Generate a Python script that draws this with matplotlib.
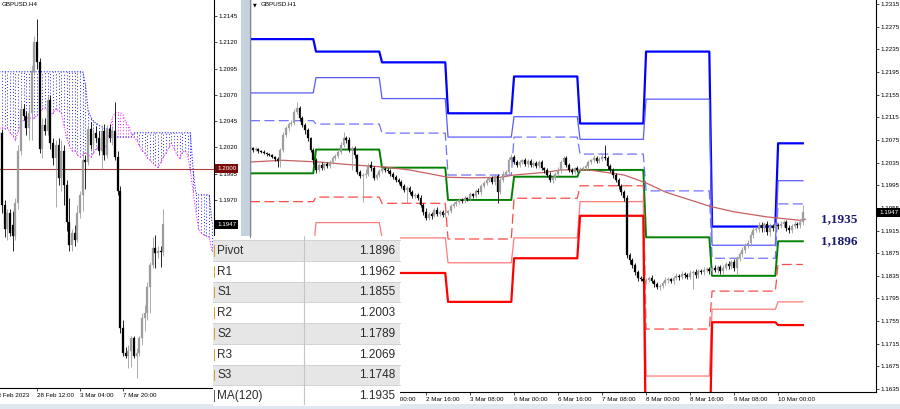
import numpy as np
import matplotlib
matplotlib.use("Agg")
import matplotlib.pyplot as plt
import matplotlib.transforms as mtransforms
from matplotlib.patches import Rectangle

plt.rcParams['font.family'] = ['Liberation Sans', 'DejaVu Sans']

# ---------------- H4 panel (left), prices in pips (x 1e-4) ----------------
h4_index = list(range(-14, 48))
h4_open = [12027,12034,11965,11943,11958,11946,11936,11967,12017,12057,12050,12039,12053,12093,
           12120,12101,12019,12041,12036,12065,12024,12010,12022,11991,12017,11984,11949,11927,
           11939,11932,11958,11975,12008,12006,12038,12022,12034,12029,12017,12036,12013,12038,
           12029,12036,12011,11979,11848,11825,11822,11827,11839,11822,11825,11839,11858,11863,
           11887,11908,11924,11920,11922,11921]
h4_high = [12044,12038,11970,11962,11962,11960,11972,12022,12063,12061,12055,12060,12098,12126,
           12142,12105,12048,12048,12070,12070,12029,12027,12029,12027,12022,11989,11972,11943,
           11946,11965,11979,12017,12013,12041,12044,12038,12040,12036,12041,12042,12041,12042,
           12040,12063,12017,11983,11856,11830,11832,11841,11841,11829,11841,11863,11870,11892,
           11911,11935,11937,11926,11926,11962]
h4_low = [12021,11958,11935,11932,11936,11922,11932,11962,12013,12046,12032,12027,12027,12089,
          12095,12015,12010,12032,12032,12019,12003,11963,11984,11979,11965,11941,11922,11922,
          11926,11930,11953,11960,11981,12003,12019,12017,12025,12013,12000,12008,12010,12025,
          12022,12008,11975,11844,11822,11820,11810,11811,11820,11801,11822,11832,11846,11856,
          11863,11905,11905,11915,11906,11917]
h4_close = [12036,11965,11943,11958,11939,11936,11967,12017,12057,12050,12039,12053,12093,12120,
            12101,12019,12041,12036,12065,12024,12010,12022,11991,12017,11984,11949,11927,11939,
            11932,11958,11975,12008,12006,12038,12022,12034,12029,12017,12036,12013,12038,12029,
            12036,12011,11979,11848,11825,11822,11827,11839,11822,11825,11839,11858,11863,11887,
            11908,11924,11920,11922,11921,11947]
h4_tick_pos = [0, 16, 32]
h4_tick_labels = ['28 Feb 12:00', '3 Mar 04:00', '7 Mar 20:00']
h4_first_label = (-16, '23 Feb 2023')
h4_price_ticks = [1.1970, 1.1995, 1.2020, 1.2045, 1.2070, 1.2095, 1.2120, 1.2145]

# Ichimoku cloud (shifted forward), bars -14 .. 65
cloud_index = list(range(-14, 66))
span_b = [12092]*32 + [12080,12055,12049,12045,12043,12041,12040,12038,12038,12038] + \
         [12030]*8 + [12034]*22 + [12000,11977] + [11975]*5 + [11950]
span_a = [12038,12039,12038,12039,12034,12031,12027,12036,12043,12046,12048,12048,12048,12048,
          12051,12053,12057,12058,12055,12051,12053,12057,12055,12053,12041,12029,12022,12017,
          12017,12013,12011,12013,12015,12013,12011,12015,12019,12020,12017,12019,12024,12036,
          12048,12053,12053,12053,12051,12044,12041,12034,12030,12027,12022,12017,12015,12010,
          12008,12005,12003,12001,12006,12011,12015,12020,12024,12019,12013,12010,12015,12017,
          12013,11998,11979,11960,11943,11939,11937,11936,11935,11922]
h4_level_line = 1.2000
h4_last = 1.1947

# ---------------- H1 panel (right) ----------------
h1_first_open = 12062
h1_close = [
    12061,12057,12059,12055,12054,12052,12050,12048,12045,12041,12038,12057,12084,12096,12103,12105,12124,12131,12114,12101,12092,12078,12057,12039,
    12022,12031,12025,12032,12029,12036,12043,12047,12054,12066,12078,12075,12057,12061,12048,12018,12011,12013,12015,12031,12025,12008,12013,12020,
    12024,12022,12020,12015,12009,12004,12001,11994,11986,11990,11983,11976,11978,11972,11960,11948,11937,11944,11941,11951,11944,11948,11942,11946,
    11949,11958,11962,11965,11969,11967,11972,11971,11979,11976,11985,11983,11994,11999,12004,12008,12001,12011,11983,12004,12015,12018,12039,12045,
    12036,12031,12036,12039,12032,12038,12031,12034,12029,12036,12025,12022,12013,12004,12008,12015,12022,12036,12043,12031,12022,12018,12025,12022,
    12024,12025,12029,12036,12039,12043,12038,12041,12045,12043,12029,12022,12013,12004,11994,11983,11972,11872,11863,11854,11842,11831,11829,11826,
    11828,11831,11826,11820,11815,11817,11822,11828,11829,11826,11831,11835,11833,11838,11836,11833,11840,11842,11836,11843,11842,11845,11847,11843,
    11849,11845,11850,11843,11849,11856,11852,11859,11849,11866,11873,11880,11889,11893,11907,11916,11918,11925,11919,11926,11912,11923,11919,11925,
    11923,11926,11930,11919,11916,11923,11926,11925,11930,11947]
h1_upper_wick = [
    3,2,3,2,2,3,2,2,3,2,3,4,5,4,3,6,5,11,4,3,3,4,3,3,
    4,3,5,3,4,3,3,4,5,6,11,4,5,4,3,3,4,3,8,3,6,4,3,3,
    3,3,4,3,3,4,3,3,4,3,4,3,3,4,5,4,6,3,4,3,5,4,3,3,
    3,4,3,4,3,3,4,3,4,3,4,5,4,3,5,4,4,4,3,4,5,4,6,5,
    4,3,4,3,4,3,4,3,4,3,4,3,4,5,4,4,5,4,3,4,3,4,3,4,
    3,4,3,4,3,5,4,4,5,21,4,3,3,4,3,3,4,5,3,4,3,3,3,4,
    4,3,5,4,4,3,4,5,4,3,4,5,4,5,4,4,6,4,5,4,4,5,4,4,
    4,5,4,4,5,4,5,4,5,4,4,5,4,6,5,5,4,5,5,4,6,5,4,5,
    4,5,4,4,5,4,5,4,5,13]
h1_lower_wick = [
    2,3,2,3,2,2,3,2,2,3,11,11,4,3,5,3,4,4,5,4,6,5,4,6,
    5,3,4,3,3,4,3,3,4,4,3,6,4,35,5,4,4,46,5,4,5,4,3,3,
    3,4,3,4,3,3,4,4,3,22,3,4,4,3,4,6,4,4,5,3,4,3,4,3,
    4,3,4,3,4,3,3,4,3,4,3,4,5,4,3,4,4,5,19,4,3,4,3,4,
    3,4,3,4,3,4,3,4,3,4,4,5,4,4,5,3,4,5,4,3,4,3,4,3,
    3,3,4,3,4,3,4,3,4,4,5,4,5,4,5,5,4,6,8,5,5,6,4,4,
    5,4,4,4,3,5,4,4,5,4,6,4,5,4,4,4,4,28,5,4,4,5,4,4,
    5,4,5,4,5,4,5,5,6,13,5,4,5,5,6,5,4,5,6,7,5,6,5,5,
    5,4,5,4,6,5,4,5,6,5]

# Daily pivot levels (one value per day: 28 Feb .. 10 Mar), pips
piv_R3 = [12253,12231,12212,12122,12187,12104,12231,11922,12069]
piv_R2 = [12158,12185,12148,12080,12116,12076,12147,11889,12003]
piv_R1 = [12109,12103,12087,12013,12080,12050,11985,11866,11962]
piv_P  = [12016,12058,12026,11969,12010,12022,11903,11835,11896]
piv_S1 = [11966,11974,11963,11900,11972,11994,11741,11808,11855]
piv_S2 = [11873,11929,11902,11858,11902,11966,11658,11776,11789]
piv_S3 = [11822,11843,11840,11789,11866,11941,11498,11753,11748]

ma_hours = [0,12,25,37,49,58,72,81,91,96,108,113,123,129,136,144,151,160,167,176,188,200,202]
ma_vals = [12036,12039,12036,12031,12027,12022,12009,12008,12009,12013,12018,12022,12022,12018,
           12013,11999,11983,11969,11958,11948,11939,11933,11935]

h1_tick_pos = [48,64,80,96,112,128,144,160,176,192]
h1_tick_labels = ['2 Mar 00:00','2 Mar 16:00','3 Mar 08:00',
                  '6 Mar 00:00','6 Mar 16:00','7 Mar 08:00','8 Mar 00:00','8 Mar 16:00',
                  '9 Mar 08:00','10 Mar 00:00']
h1_last = 1.1947

table_labels = ['Pivot','R1','S1','R2','S2','R3','S3','MA(120)']
table_values = ['1.1896','1.1962','1.1855','1.2003','1.1789','1.2069','1.1748','1.1935']
note_values = [1.1935, 1.1896]
note_texts = ['1,1935', '1,1896']

# ---------------- figure ----------------
W, H = 900, 409
fig = plt.figure(figsize=(9, 4.09), dpi=100)
fig.patch.set_facecolor('white')

def fx(px):
    return px / W

def fy(py):
    return 1 - py / H

ax1 = fig.add_axes([0, fy(388), fx(214), 388 / H])
ax2 = fig.add_axes([fx(250), fy(392), fx(626), 392 / H])

BULL = '#9d9d9d'
BEAR = '#000000'

def candles(ax, x, o, h, l, c, width, min_h):
    x = np.asarray(x, float)
    o, h, l, c = [np.asarray(v, float) / 1e4 for v in (o, h, l, c)]
    up = c >= o
    cols = np.where(up, BULL, BEAR)
    ax.vlines(x, l, h, colors=cols, linewidth=0.6, zorder=3)
    bottom = np.minimum(o, c)
    height = np.maximum(np.abs(c - o), min_h)
    ax.bar(x, height, width, bottom=bottom, color=cols, edgecolor=cols,
           linewidth=0.2, zorder=4)

# ---- left panel ----
ci = np.asarray(cloud_index, float)
sa = np.asarray(span_a, float) / 1e4
sb = np.asarray(span_b, float) / 1e4
ccol = np.where(sb >= sa, '#2222ff', '#ff22ff')
ax1.vlines(ci, np.minimum(sa, sb), np.maximum(sa, sb), colors=ccol,
           linestyles=(0, (1, 2.2)), linewidth=0.7, zorder=1)
ax1.plot(ci, sb, color='#2222ff', linestyle=(0, (1, 1.5)), linewidth=0.8, zorder=1.2)
ax1.plot(ci, sa, color='#ff22ff', linestyle=(0, (1, 1.5)), linewidth=0.8, zorder=1.2)
ax1.axhline(h4_level_line, color='#a84040', linewidth=0.8, zorder=2)
candles(ax1, h4_index, h4_open, h4_high, h4_low, h4_close, 0.72, 0.0001)

ax1.set_xlim(-13.75, 65.8)
ax1.set_ylim(1.17914, 1.21602)
ax1.yaxis.tick_right()
ax1.set_yticks(h4_price_ticks)
ax1.set_yticklabels(['%.4f' % v for v in h4_price_ticks])
ax1.set_xticks(h4_tick_pos)
ax1.set_xticklabels(h4_tick_labels, ha='left')
ax1.text(h4_first_label[0], -0.012, h4_first_label[1],
         transform=mtransforms.blended_transform_factory(ax1.transData, ax1.transAxes),
         ha='left', va='top', fontsize=4.5, clip_on=False)

# ---- right panel ----
hours = np.arange(len(h1_close))
c1 = np.asarray(h1_close, float)
o1 = np.concatenate([[h1_first_open], c1[:-1]])
hi1 = np.maximum(o1, c1) + np.asarray(h1_upper_wick)
lo1 = np.minimum(o1, c1) - np.asarray(h1_lower_wick)
day = hours // 24

piv_styles = [
    (piv_R3, '#0000ff', 1.6, '-'),
    (piv_R2, '#5a5aff', 0.9, '-'),
    (piv_R1, '#7272ff', 0.9, (0, (8, 3.5))),
    (piv_P, '#008000', 1.4, '-'),
    (piv_S1, '#ff4a4a', 0.9, (0, (8, 3.5))),
    (piv_S2, '#ff7a7a', 0.9, '-'),
    (piv_S3, '#ff0000', 1.6, '-'),
]
for vals, col, lw, ls in piv_styles:
    ax2.plot(hours, np.asarray(vals, float)[day] / 1e4, color=col, linewidth=lw,
             linestyle=ls, zorder=2)
ax2.plot(ma_hours, np.asarray(ma_vals, float) / 1e4, color='#c86060', linewidth=0.9, zorder=2.5)
candles(ax2, hours, o1, hi1, lo1, c1, 0.62, 0.00012)

for v, t in zip(note_values, note_texts):
    ax2.text(207.6, v, t, ha='left', va='center', fontsize=9.5, fontweight='bold',
             family=['Liberation Serif', 'DejaVu Serif'], color='#1a1a6e', zorder=6)

ax2.set_xlim(0, 227.6)
ax2.set_ylim(1.16298, 1.23221)
ax2.yaxis.tick_right()
yt2 = np.round(np.arange(1.1635, 1.23151, 0.004), 4)
ax2.set_yticks(yt2)
ax2.set_yticklabels(['%.4f' % v for v in yt2])
ax2.set_xticks(h1_tick_pos)
ax2.set_xticklabels(h1_tick_labels, ha='left')

for ax in (ax1, ax2):
    ax.set_facecolor('white')
    ax.tick_params(axis='both', labelsize=4.5, length=2, width=0.5, pad=1.5, colors='black')
    ax.spines['top'].set_visible(False)
    ax.spines['right'].set_linewidth(0.8)
    ax.spines['bottom'].set_linewidth(0.8)
ax1.spines['left'].set_visible(False)
ax2.spines['left'].set_color('#606060')
ax2.spines['left'].set_linewidth(1.0)

# price marker boxes on the axes
def price_box(ax, price, text, fc):
    tr = mtransforms.blended_transform_factory(ax.transAxes, ax.transData)
    ax.annotate(text, xy=(1, price), xycoords=tr, xytext=(2.2, 0), textcoords='offset points',
                ha='left', va='center', fontsize=4.5, color='white', annotation_clip=False,
                bbox=dict(boxstyle='square,pad=0.3', fc=fc, ec='none'), zorder=8)

price_box(ax1, h4_level_line, '%.4f' % h4_level_line, '#7a0a0a')
price_box(ax1, h4_last, '%.4f' % h4_last, '#000000')
price_box(ax2, h1_last, '%.4f' % h1_last, '#000000')

# ---- overlay: frame pieces, titles and value table ----
ov = fig.add_axes([0, 0, 1, 1], zorder=10)
ov.set_xlim(0, W)
ov.set_ylim(H, 0)
ov.axis('off')
ov.patch.set_alpha(0)

ov.add_patch(Rectangle((241, 0), 8.5, 237, fc='#c5d1dd', ec='none'))
ov.plot([249.5, 249.5], [0, 237], color='#7d8a99', lw=0.8)
ov.add_patch(Rectangle((0, 404), W, 5, fc='#dfe8f1', ec='none'))

ov.text(2, 5, 'GBPUSD.H4', fontsize=4.5, va='center', ha='left')
ov.text(253, 5, '\u25bc', fontsize=3.5, va='center', ha='left', family=['DejaVu Sans'])
ov.text(261, 5, 'GBPUSD.H1', fontsize=4.5, va='center', ha='left')

tx0, tx1, tcol = 212.5, 399.5, 304
row_top, row_h = 240.0, 20.75
ov.add_patch(Rectangle((tx0, 236), tx1 - tx0, 404 - 236, fc='white', ec='none'))
for k, (lab, val) in enumerate(zip(table_labels, table_values)):
    y0 = row_top + k * row_h
    fc = '#e6e6e6' if k % 2 == 0 else '#ffffff'
    ov.add_patch(Rectangle((tx0, y0), tx1 - tx0, row_h, fc=fc, ec='none'))
    ov.plot([tx0, tx1], [y0, y0], color='#d2d2d2', lw=0.7)
    mark = '#606060' if lab.startswith('MA') else '#d9a030'
    ov.add_patch(Rectangle((213.5, y0 + 5), 1.4, row_h - 9, fc=mark, ec='none'))
    ov.text(217.5, y0 + row_h / 2 + 0.5, lab, fontsize=8.5, color='#2b2b2b', ha='left', va='center')
    ov.text(395, y0 + row_h / 2 + 0.5, val, fontsize=8.5, color='#2b2b2b', ha='right', va='center')
ov.plot([tcol, tcol], [236, 404], color='#c4c4c4', lw=0.8)

fig.savefig('out.png', dpi=100)
